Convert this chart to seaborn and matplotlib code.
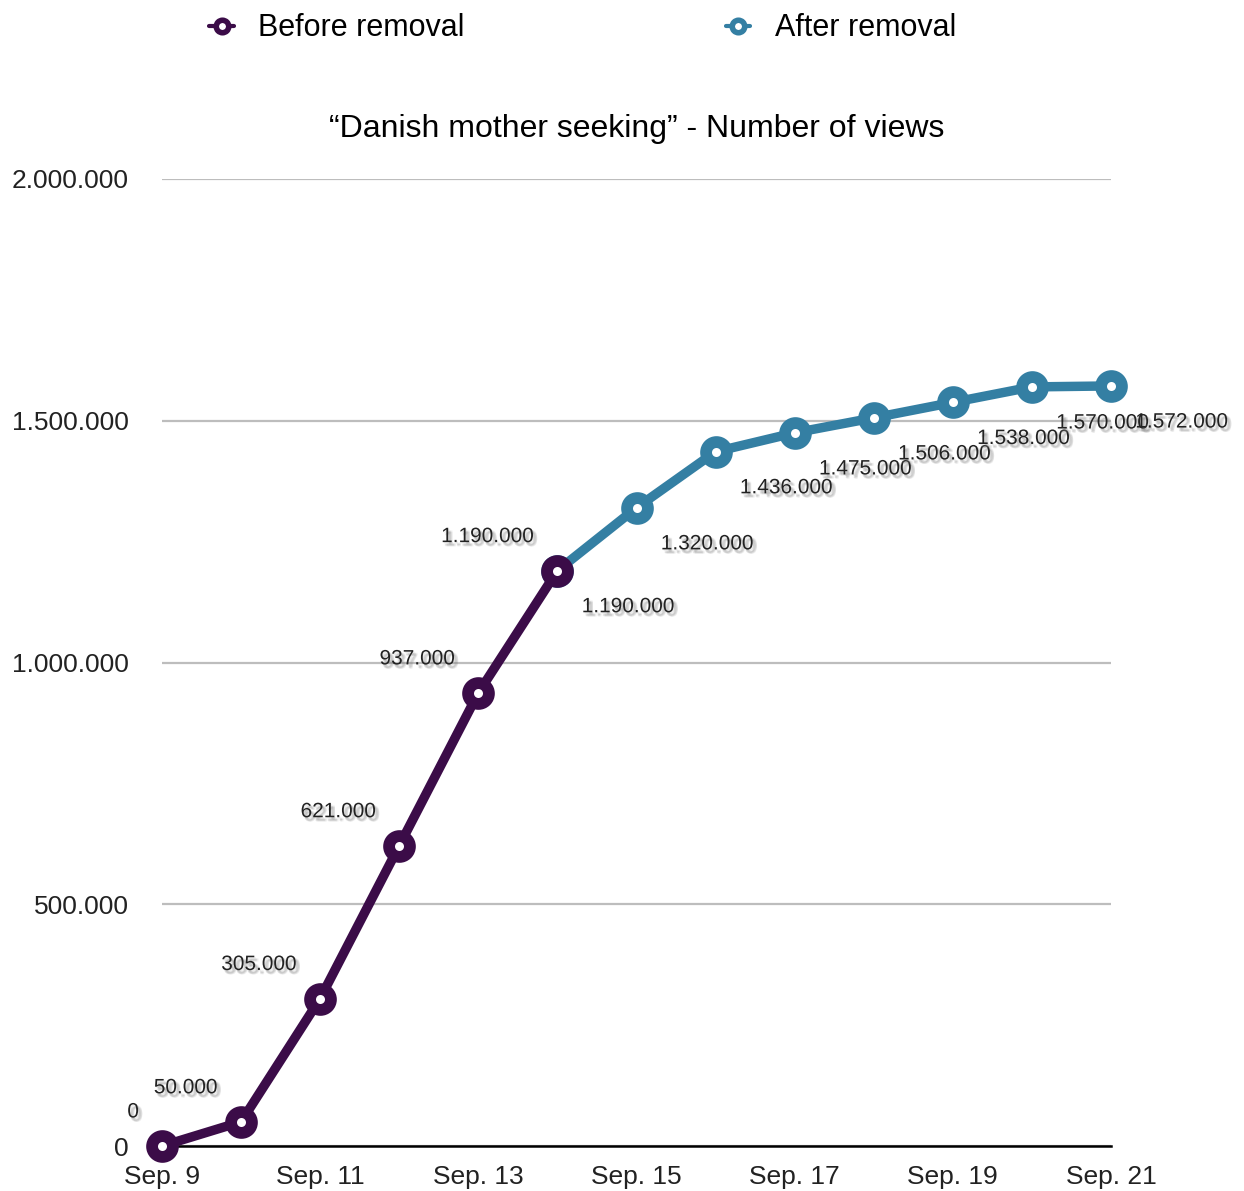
import matplotlib
matplotlib.use("Agg")
import matplotlib.pyplot as plt
import matplotlib.patheffects as pe
from matplotlib.lines import Line2D
import seaborn as sns
import pandas as pd

# ---- data ----
before_days = [9, 10, 11, 12, 13, 14]
before_views = [0, 50000, 305000, 621000, 937000, 1190000]
after_days = [14, 15, 16, 17, 18, 19, 20, 21]
after_views = [1190000, 1320000, 1436000, 1475000, 1506000, 1538000, 1570000, 1572000]
tick_days = [9, 11, 13, 15, 17, 19, 21]
tick_labels = ["Sep. 9", "Sep. 11", "Sep. 13", "Sep. 15", "Sep. 17", "Sep. 19", "Sep. 21"]
y_ticks = [0, 500000, 1000000, 1500000, 2000000]
series_names = ["Before removal", "After removal"]
title = "\u201cDanish mother seeking\u201d - Number of views"

purple = "#3b0c48"
blue = "#347fa3"

sns.set_style("white")
plt.rcParams["font.family"] = ["Liberation Sans", "DejaVu Sans"]

fig = plt.figure(figsize=(12.44, 11.91), dpi=100)
ax = fig.add_axes([162 / 1244, 1 - 1146 / 1191, (1111 - 162) / 1244, (1146 - 179) / 1191])

df_before = pd.DataFrame({"day": before_days, "views": before_views})
df_after = pd.DataFrame({"day": after_days, "views": after_views})

common = dict(marker="o", markersize=15, markeredgewidth=8.5, markerfacecolor="white",
              linewidth=6.8, clip_on=False, legend=False, solid_capstyle="round")
sns.lineplot(data=df_after, x="day", y="views", color=blue, markeredgecolor=blue,
             ax=ax, zorder=4, **common)
sns.lineplot(data=df_before, x="day", y="views", color=purple, markeredgecolor=purple,
             ax=ax, zorder=5, **common)

shadow = [pe.SimplePatchShadow(offset=o, shadow_rgbFace="#777777", alpha=0.13)
          for o in [(1, -1), (2, -2), (3, -3), (2, -3), (3, -2), (1.5, -2.5)]] + [pe.Normal()]
for d, v in zip(before_days, before_views):
    ax.annotate(f"{v:,}".replace(",", "."), (d, v), xytext=(-16.5, 24.5), textcoords="offset points",
                ha="right", va="center", fontsize=15, color="#222222", path_effects=shadow, zorder=6)
for d, v in zip(after_days, after_views):
    ax.annotate(f"{v:,}".replace(",", "."), (d, v), xytext=(17.5, -26), textcoords="offset points",
                ha="left", va="center", fontsize=15, color="#222222", path_effects=shadow, zorder=6,
                annotation_clip=False)

ax.set_xlim(9, 21)
ax.set_ylim(0, 2000000)
ax.set_xticks(tick_days)
ax.set_xticklabels(tick_labels)
ax.set_yticks(y_ticks)
ax.set_yticklabels([f"{v:,}".replace(",", ".") for v in y_ticks])
ax.tick_params(axis="both", length=0, labelsize=19, labelcolor="#222222")
ax.tick_params(axis="y", pad=24)
ax.tick_params(axis="x", pad=14)
ax.set_xlabel("")
ax.set_ylabel("")

ax.yaxis.grid(True, color="#bdbdbd", linewidth=1.6)
ax.xaxis.grid(False)
for s in ["top", "right", "left"]:
    ax.spines[s].set_visible(False)
ax.spines["bottom"].set_color("black")
ax.spines["bottom"].set_linewidth(1.8)
ax.spines["bottom"].set_zorder(3)

ax.set_title(title, fontsize=23, pad=30, color="black")

handles = [
    Line2D([0], [0], color=purple, lw=3, marker="o", markersize=9, markeredgewidth=4,
           markerfacecolor="white", markeredgecolor=purple),
    Line2D([0], [0], color=blue, lw=3, marker="o", markersize=9, markeredgewidth=4,
           markerfacecolor="white", markeredgecolor=blue),
]
fig.legend(handles, series_names, loc="upper left", bbox_to_anchor=(191 / 1244, 1.0 + 5 / 1191),
           ncol=2, frameon=False, fontsize=22, handlelength=0.8, handletextpad=0.8,
           columnspacing=8.55, borderaxespad=0.2, labelcolor="black")

fig.savefig("out.png", dpi=100)
